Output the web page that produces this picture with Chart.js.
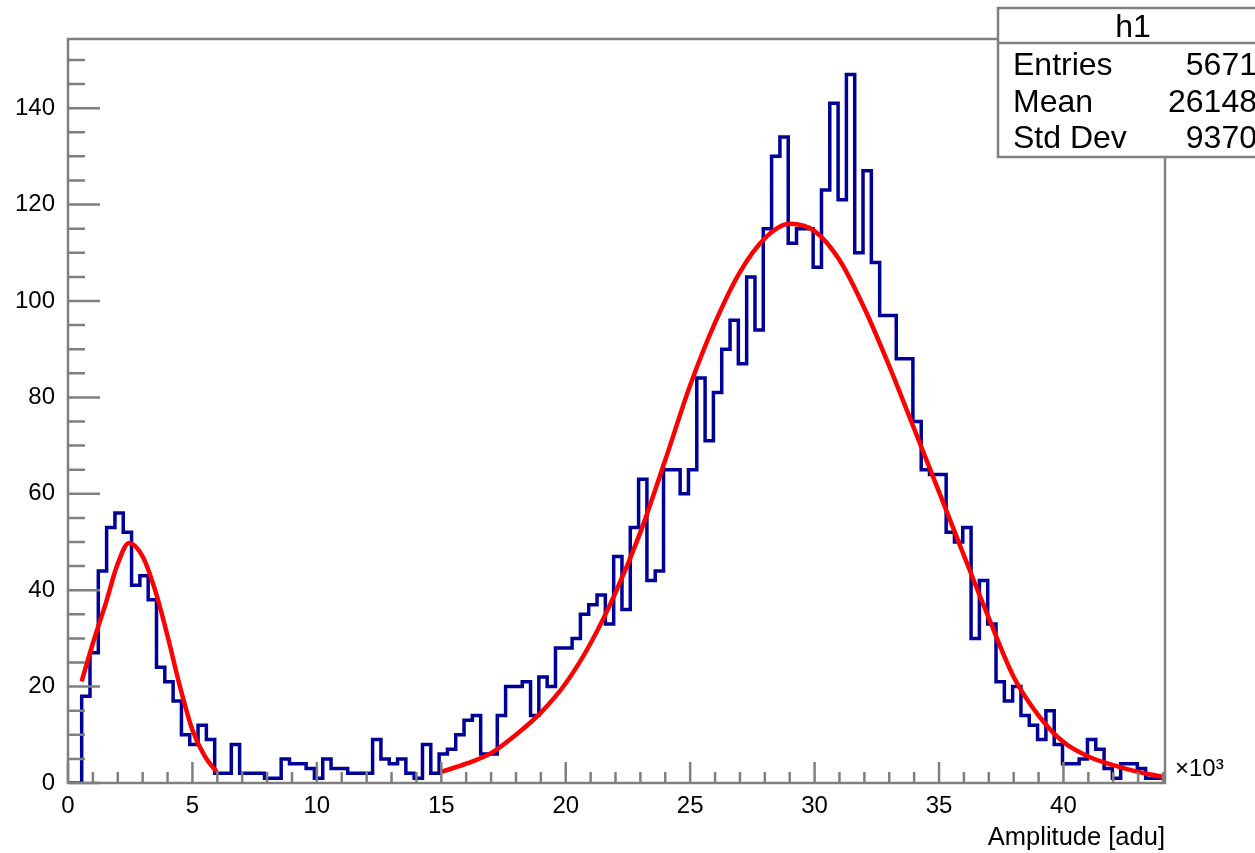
<!DOCTYPE html>
<html><head><meta charset="utf-8">
<script src="https://cdn.jsdelivr.net/npm/chart.js@4.4.1/dist/chart.umd.min.js"></script>
<style>html,body{margin:0;padding:0;background:#fff;}#wrap{width:1255px;height:853px;position:relative;}</style>
</head><body><div id="wrap"><canvas id="c" width="1255" height="853"></canvas></div>
<script>
// ---- data ----
const histMin = 0;              // histogram range start (k adu)
const binStart = 0.55;          // first filled bin lower edge (k adu)
const binWidth = 0.334;         // bin width (k adu)
const counts = [
  18,27,44,53,56,52,41,43,38,24,21,17,10,8,12,9,
  2,2,8,2,2,2,1,1,5,4,4,3,1,5,3,3,2,2,2,
  9,5,4,5,2,1,8,2,6,7,10,13,14,6,6,14,20,20,21,14,22,20,28,28,30,35,37,39,
  33,47,36,53,63,42,44,65,65,60,65,84,71,81,90,96,87,
  105,94,115,130,134,112,115,115,107,123,141,121,147,110,127,108,97,97,88,88,
  75,65,64,64,52,50,53,30,42,33,21,17,20,14,12,9,15,8,4,4,5,9,7,3,1,4,4,3,1,1,1
];
const fitLowX = [0.55,1,1.5,2,2.45,3,3.5,4,4.5,5,5.5,5.97];
const fitLowY = [21.1,29,37,45.5,49.8,47,40,30.5,20,11,5.5,2.35];
const fitHighX = [15,16,17,18,19,20,21,22,23,24,25,26,27,28,29,30,31,32,33,34,35,36,37,38,39,40,41,42,43,44];
const fitHighY = [2.3,4.0,6.2,10.0,14.6,20.7,29,39.5,52,67,82.5,95.5,106,113,116,114.5,108.5,98.5,86.5,73.5,60.4,47.2,34.2,22,14,8.5,5.5,3.7,2.3,1.3];

const xMin = 0, xMax = 44.08, yMin = 0, yMax = 154.35;
const xMajorStep = 5, xMinorStep = 1;
const yMajorStep = 20, yMinorStep = 5;
const xTitle = 'Amplitude [adu]';
const xExponent = '×10³';
const statsTitle = 'h1';
const statsLabels = ['Entries', 'Mean', 'Std Dev'];
const statsValues = ['5671', '26148', '9370'];

// ---- build tables (each point = bin lower edge, last point = upper edge of last bin) ----
const histPoints = [{x: histMin, y: 0}];
counts.forEach((c, i) => histPoints.push({x: binStart + i * binWidth, y: c}));
histPoints.push({x: binStart + counts.length * binWidth, y: counts[counts.length - 1]});
const fitLow = fitLowX.map((x, i) => ({x, y: fitLowY[i]}));
const fitHigh = fitHighX.map((x, i) => ({x, y: fitHighY[i]}));

const FONT = "'Liberation Sans', Arial, Helvetica, sans-serif";
const frameColor = '#7f7f7f';

const rootDecor = {
  id: 'rootDecor',
  afterDatasetsDraw(chart) {
    const {ctx, chartArea: a, scales: {x, y}} = chart;
    ctx.save();
    ctx.strokeStyle = frameColor;
    ctx.lineWidth = 2.5;
    ctx.strokeRect(a.left, a.top, a.right - a.left, a.bottom - a.top);
    ctx.beginPath();
    const nx = Math.floor((xMax - xMin) / xMinorStep + 1e-9);
    for (let i = 0; i <= nx; i++) {
      const v = xMin + i * xMinorStep;
      const px = x.getPixelForValue(v);
      const len = (i % (xMajorStep / xMinorStep) === 0) ? 21 : 11;
      ctx.moveTo(px, a.bottom); ctx.lineTo(px, a.bottom - len);
    }
    const ny = Math.floor((yMax - yMin) / yMinorStep + 1e-9);
    for (let i = 0; i <= ny; i++) {
      const v = yMin + i * yMinorStep;
      const py = y.getPixelForValue(v);
      const len = (i % (yMajorStep / yMinorStep) === 0) ? 32 : 17;
      ctx.moveTo(a.left, py); ctx.lineTo(a.left + len, py);
    }
    ctx.stroke();
    ctx.restore();
  },
  afterDraw(chart) {
    const {ctx, chartArea: a} = chart;
    ctx.save();
    ctx.fillStyle = '#000';
    ctx.font = '24px ' + FONT;
    ctx.textAlign = 'left';
    ctx.textBaseline = 'middle';
    ctx.fillText(xExponent, a.right + 10, a.bottom - 14);
    const bx = 998, by = 8, bw = 270, bh = 149, sep = 43;
    ctx.fillStyle = '#fff';
    ctx.fillRect(bx, by, bw, bh);
    ctx.strokeStyle = frameColor;
    ctx.lineWidth = 2.5;
    ctx.strokeRect(bx, by, bw, bh);
    ctx.beginPath(); ctx.moveTo(bx, sep); ctx.lineTo(bx + bw, sep); ctx.stroke();
    ctx.fillStyle = '#000';
    ctx.font = '32px ' + FONT;
    ctx.textBaseline = 'alphabetic';
    ctx.textAlign = 'center';
    ctx.fillText(statsTitle, bx + bw / 2, 37);
    const rows = [75, 112, 148];
    statsLabels.forEach((lab, i) => {
      ctx.textAlign = 'left';
      ctx.fillText(lab, bx + 15, rows[i]);
      ctx.textAlign = 'right';
      ctx.fillText(statsValues[i], 1257, rows[i]);
    });
    ctx.restore();
  }
};

new Chart(document.getElementById('c'), {
  type: 'line',
  data: {
    datasets: [
      {data: fitLow, borderColor: '#ff0000', borderWidth: 4.5, pointRadius: 0, cubicInterpolationMode: 'monotone', fill: false},
      {data: fitHigh, borderColor: '#ff0000', borderWidth: 4.5, pointRadius: 0, cubicInterpolationMode: 'monotone', fill: false},
      {data: histPoints, borderColor: '#000099', borderWidth: 3.5, pointRadius: 0, stepped: 'before', fill: false, borderJoinStyle: 'miter'}
    ]
  },
  options: {
    responsive: false,
    animation: false,
    devicePixelRatio: 1,
    layout: {padding: {top: 39, right: 90, left: 0, bottom: 0}},
    plugins: {legend: {display: false}, tooltip: {enabled: false}},
    scales: {
      x: {
        type: 'linear', min: xMin, max: xMax,
        grid: {display: false, drawTicks: false},
        border: {display: false},
        ticks: {stepSize: xMajorStep, includeBounds: false, padding: 9, color: '#000', maxRotation: 0,
                font: {size: 24, family: FONT}, callback: v => String(v)},
        title: {display: true, text: xTitle, align: 'end', color: '#000', font: {size: 25.5, family: FONT}, padding: {top: 0, bottom: 0}},
        afterFit(s) { s.height = 70; }
      },
      y: {
        type: 'linear', min: yMin, max: yMax,
        grid: {display: false, drawTicks: false},
        border: {display: false},
        ticks: {stepSize: yMajorStep, includeBounds: false, padding: 13, color: '#000',
                font: {size: 24, family: FONT}, callback: v => String(v)},
        afterFit(s) { s.width = 68; }
      }
    }
  },
  plugins: [rootDecor]
});
</script>
</body></html>
